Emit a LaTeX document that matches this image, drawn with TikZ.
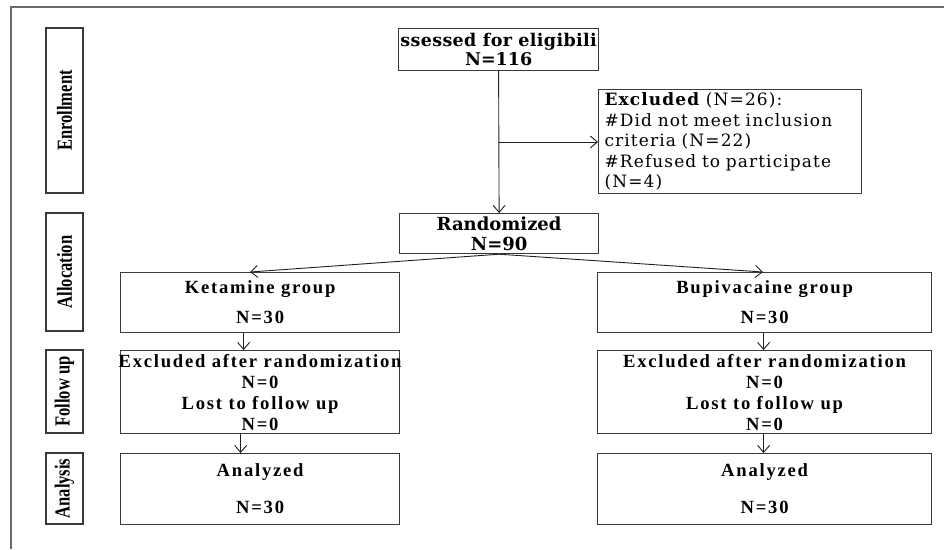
\documentclass[tikz,border=0pt]{standalone}
\usepackage{fontspec}
\setmainfont{Liberation Serif}
\newfontfamily\boxfont{DejaVu Serif}
\usetikzlibrary{arrows.meta}
\definecolor{boxgray}{HTML}{3A3A3A}
\definecolor{linegray}{HTML}{202020}
\definecolor{framegray}{HTML}{6A6A6A}
\begin{document}
\begin{tikzpicture}[x=1pt,y=-1pt,
  box/.style={draw=boxgray, line width=1.2pt, inner sep=0pt, align=center, anchor=north west},
  side/.style={draw=boxgray, line width=1.2pt, rotate=90, inner sep=0pt, minimum height=37pt,
    font=\fontsize{21.5}{24}\selectfont\bfseries},
  grp/.style={box, font=\fontsize{18.6}{21}\selectfont\bfseries\addfontfeatures{LetterSpace=9.5}},
  top/.style={box, font=\boxfont\fontsize{17.5}{19}\selectfont\bfseries},
  arr/.style={draw=linegray, line width=0.9pt, -{Straight Barb[length=7pt,width=12pt]}},
]
\useasboundingbox (0,0) rectangle (944,549);
\draw[framegray, line width=1.3pt] (944,7) -- (11,7) -- (11,549);

% side labels
\node[side, minimum width=165pt] (senr) at (64.5,110.5) {\scalebox{0.77}[1]{Enrollment}};
\node[side, minimum width=118pt] (sall) at (64.5,272) {\scalebox{0.77}[1]{Allocation}};
\node[side, minimum width=83pt] (sfol) at (64.5,391.5) {\scalebox{0.77}[1]{Follow up}};
\node[side, minimum width=71pt] (sana) at (64.5,488.5) {\scalebox{0.77}[1]{Analysis}};

% top boxes
\node[top, minimum width=200pt, minimum height=42pt] (ass) at (398,28)
  {\makebox[0pt]{\addfontfeatures{LetterSpace=2}ssessed for eligibili}\\N=116};
\node[box, minimum height=104pt, text width=251pt, inner xsep=6pt, align=left,
  font=\boxfont\fontsize{17}{20.5}\selectfont\addfontfeatures{LetterSpace=6.5}] (exc) at (598,89)
  {\textbf{Excluded} (N=26):\\\#Did not meet inclusion\\criteria (N=22)\\\#Refused to participate\\(N=4)};
\node[top, minimum width=199pt, minimum height=40pt, font=\boxfont\fontsize{18}{20}\selectfont\bfseries] (rand) at (399,213)
  {Randomized\\N=90};

% group boxes
\node[grp, minimum width=279pt, minimum height=60pt] (ket) at (120,272) {Ketamine group\\[9pt]N=30};
\node[grp, minimum width=334pt, minimum height=60pt] (bup) at (597,272) {Bupivacaine group\\[9pt]N=30};
\node[grp, minimum width=279pt, minimum height=83pt] (folk) at (120,350)
  {\makebox[0pt]{Excluded after randomization}\\N=0\\Lost to follow up\\N=0};
\node[grp, minimum width=334pt, minimum height=83pt] (folb) at (597,350)
  {Excluded after randomization\\N=0\\Lost to follow up\\N=0};
\node[grp, minimum width=279pt, minimum height=71pt] (anak) at (120,453) {Analyzed\\[16pt]N=30};
\node[grp, minimum width=334pt, minimum height=71pt] (anab) at (597,453) {Analyzed\\[16pt]N=30};

% connectors
\coordinate (split) at (499,142);
\coordinate (ketin) at (250,272);
\coordinate (bupin) at (763,272);
\draw[arr] (ass.south) -- (rand.north);
\draw[arr] (split) -- (exc.west |- split);
\draw[arr] (rand.south) -- (ketin);
\draw[arr] (rand.south) -- (bupin);
\draw[arr] ([xshift=-16.5pt]ket.south) -- ([xshift=-16.5pt]folk.north);
\draw[arr] ([xshift=-1pt]bup.south) -- ([xshift=-1pt]folb.north);
\draw[arr] ([xshift=-19.5pt]folk.south) -- ([xshift=-19.5pt]anak.north);
\draw[arr] ([xshift=-1pt]folb.south) -- ([xshift=-1pt]anab.north);
\end{tikzpicture}
\end{document}
